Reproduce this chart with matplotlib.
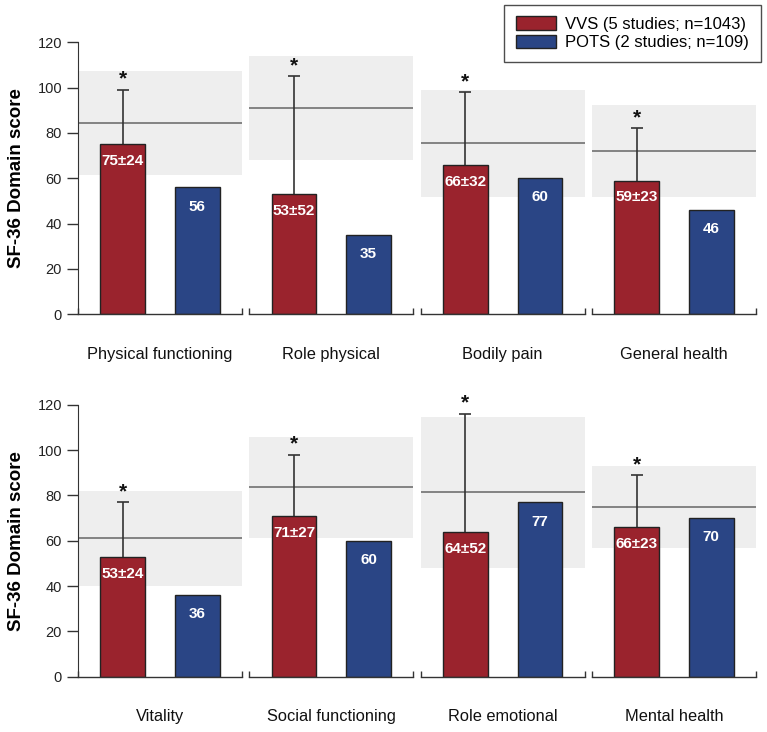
import matplotlib.pyplot as plt
from matplotlib.patches import Patch

plt.rcParams['font.family'] = ['Liberation Sans', 'DejaVu Sans']

# SF-36 domains, two rows of four
domains = ['Physical functioning', 'Role physical', 'Bodily pain', 'General health',
           'Vitality', 'Social functioning', 'Role emotional', 'Mental health']
vvs_mean = [75, 53, 66, 59, 53, 71, 64, 66]
vvs_sd = [24, 52, 32, 23, 24, 27, 52, 23]
pots_mean = [56, 35, 60, 46, 36, 60, 77, 70]
# population norms (mean line and +/- SD band)
norm_mean = [84.4, 91.0, 75.4, 72.0, 61.1, 83.6, 81.4, 74.8]
norm_sd = [23.0, 22.9, 23.7, 20.2, 20.9, 22.3, 33.2, 18.1]
yticks = [0, 20, 40, 60, 80, 100, 120]

RED = '#9A232D'
BLUE = '#2A4585'

fig, axes = plt.subplots(2, 4, figsize=(7.67, 7.32), dpi=100, sharey=True,
                         gridspec_kw=dict(left=0.1017, right=0.9857, top=0.9422,
                                          bottom=0.0755, wspace=0.0447, hspace=0.3336))

x0, x1 = -0.6, 1.6
for i, ax in enumerate(axes.flat):
    m, s = norm_mean[i], norm_sd[i]
    ax.axhspan(m - s, m + s, color='#EEEEEE', lw=0, zorder=0)
    ax.axhline(m, color='#7A7A7A', lw=1.3, zorder=1)

    ax.bar(0, vvs_mean[i], 0.6, color=RED, edgecolor='#222222', lw=1, zorder=2)
    ax.bar(1, pots_mean[i], 0.6, color=BLUE, edgecolor='#222222', lw=1, zorder=2)
    # only the upper half of the error bar, one cap on top
    top = vvs_mean[i] + vvs_sd[i]
    ax.vlines(0, vvs_mean[i], top, color='#333333', lw=1.2, zorder=1.5)
    ax.plot([0], [top], marker='_', ms=9, mew=1.2, color='#333333', zorder=1.5)
    ax.text(0, top + 0.5, '*', ha='center', va='bottom',
            fontsize=15, fontweight='bold', color='#111111')

    ax.text(0, vvs_mean[i] - 7.5, f'{vvs_mean[i]}\u00b1{vvs_sd[i]}', ha='center',
            va='center', color='white', fontsize=11, fontweight='bold', zorder=3)
    ax.text(1, pots_mean[i] - 8.5, f'{pots_mean[i]}', ha='center', va='center',
            color='white', fontsize=11, fontweight='bold', zorder=3)

    ax.text(0.5, -0.148, domains[i], transform=ax.transAxes, ha='center',
            va='center', fontsize=11.8, color='#111111')

    ax.set_xlim(x0, x1)
    ax.set_ylim(0, 120)
    ax.set_xticks([x0, x1])
    ax.tick_params(axis='x', direction='in', length=4, width=1, labelbottom=False,
                   color='#333333')
    for sp in ['top', 'right']:
        ax.spines[sp].set_visible(False)
    ax.spines['bottom'].set_color('#333333')
    ax.spines['bottom'].set_linewidth(1)
    if i % 4 == 0:
        ax.set_yticks(yticks)
        ax.tick_params(axis='y', direction='out', length=8, width=1,
                       labelsize=10.5, color='#333333', labelcolor='#222222')
        ax.spines['left'].set_color('#333333')
        ax.set_ylabel('SF-36 Domain score', fontsize=13.5, fontweight='bold', labelpad=9)
    else:
        ax.spines['left'].set_visible(False)
        ax.tick_params(axis='y', left=False, labelleft=False)

handles = [Patch(facecolor=RED, edgecolor='#222222', lw=1),
           Patch(facecolor=BLUE, edgecolor='#222222', lw=1)]
leg = fig.legend(handles, ['VVS (5 studies; n=1043)', 'POTS (2 studies; n=109)'],
                 loc='upper right', bbox_to_anchor=(0.9918, 0.9936), fontsize=12,
                 frameon=True, fancybox=False, edgecolor='#222222',
                 handlelength=2.4, handleheight=0.9, handletextpad=0.55,
                 labelspacing=0.15, borderpad=0.7, borderaxespad=0)
leg.get_frame().set_linewidth(1)

fig.savefig('out.png', dpi=100)
